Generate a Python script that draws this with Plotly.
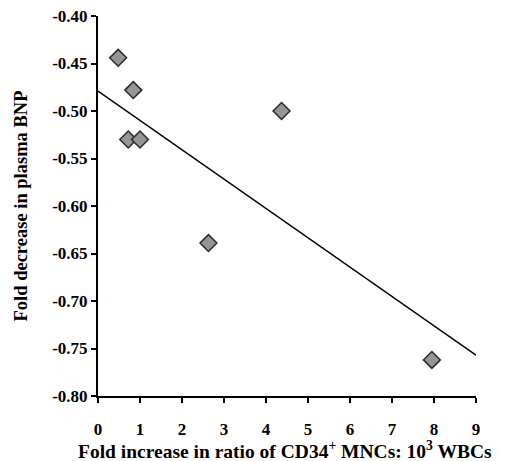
import plotly.graph_objects as go

# Data
cd34_fold = [0.48, 0.84, 0.72, 1.0, 4.37, 2.63, 7.95]
bnp_fold = [-0.444, -0.478, -0.530, -0.530, -0.500, -0.639, -0.762]
fit_x = [0, 9]
fit_y = [-0.479, -0.757]
x_ticks = [0, 1, 2, 3, 4, 5, 6, 7, 8, 9]
y_ticks = [-0.40, -0.45, -0.50, -0.55, -0.60, -0.65, -0.70, -0.75, -0.80]
x_title = "Fold increase in ratio of CD34<sup>+</sup> MNCs: 10<sup>3</sup> WBCs"
y_title = "Fold decrease in plasma BNP"

FAM = "Liberation Serif"

fig = go.Figure()
fig.add_trace(go.Scatter(
    x=fit_x, y=fit_y, mode="lines",
    line=dict(color="black", width=1.5), showlegend=False, hoverinfo="skip"))
fig.add_trace(go.Scatter(
    x=cd34_fold, y=bnp_fold, mode="markers",
    marker=dict(symbol="diamond", size=13, color="#959595",
                line=dict(color="#2a2a2a", width=1.5)),
    showlegend=False))

fig.add_annotation(
    text=x_title, xref="paper", yref="paper", x=0.495, y=-0.142,
    xanchor="center", yanchor="middle", showarrow=False,
    font=dict(size=19.5, family=FAM, color="black", weight="bold"))

fig.update_layout(
    width=505, height=461,
    margin=dict(l=90, r=37, t=8, b=73),
    paper_bgcolor="white", plot_bgcolor="white",
    font=dict(family=FAM, color="black"),
    xaxis=dict(
        range=[0, 9], tickvals=x_ticks,
        ticktext=[str(v) for v in x_ticks],
        tickfont=dict(size=17, family=FAM, color="black", weight="bold"),
        ticks="outside", ticklen=5, tickwidth=1.5, tickcolor="black",
        ticklabelstandoff=12, ticklabeloverflow="allow",
        showline=True, linecolor="black", linewidth=2,
        showgrid=False, zeroline=False, automargin=False,
    ),
    yaxis=dict(
        range=[-0.80, -0.40], tickvals=y_ticks,
        ticktext=[f"{v:.2f}" for v in y_ticks],
        tickfont=dict(size=17, family=FAM, color="black", weight="bold"),
        ticks="outside", ticklen=5, tickwidth=1.5, tickcolor="black",
        ticklabeloverflow="allow",
        showline=True, linecolor="black", linewidth=2,
        showgrid=False, zeroline=False, automargin=False,
        title=dict(text=y_title,
                   font=dict(size=18.5, family=FAM, color="black", weight="bold"),
                   standoff=20),
    ),
)

fig.write_html("out.html")
